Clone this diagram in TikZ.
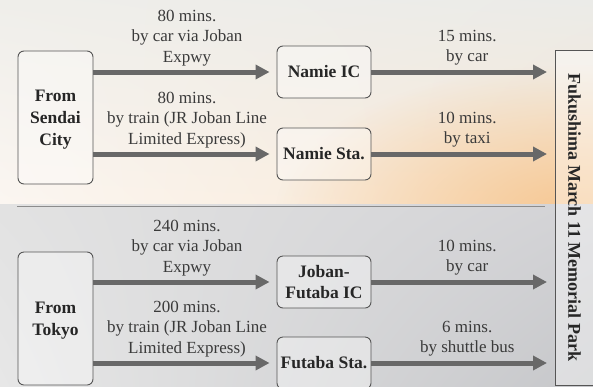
\documentclass[tikz,border=0pt]{standalone}
\usepackage{fontspec}
\setmainfont{Liberation Serif}
\usetikzlibrary{arrows.meta,shadings,fadings}
\definecolor{boxline}{HTML}{555555}
\definecolor{arrowc}{HTML}{686868}
\definecolor{txt}{HTML}{3a3a3a}
\definecolor{btxt}{HTML}{262626}
\definecolor{skyUL}{HTML}{EFEEEA}
\definecolor{skyUR}{HTML}{EBEBE8}
\definecolor{skyLL}{HTML}{FBF6F1}
\definecolor{skyLR}{HTML}{F9E7D2}
\definecolor{peach}{HTML}{F6C792}
\definecolor{seaUL}{HTML}{E2E2E2}
\definecolor{seaUR}{HTML}{D3D3D6}
\definecolor{seaLL}{HTML}{E7E7E7}
\definecolor{seaLR}{HTML}{C6C7CA}
\tikzfading[name=blob, inner color=transparent!0, outer color=transparent!100]
\tikzset{
  place/.style={draw=boxline, line width=0.9pt, rounded corners=6pt, fill=white, fill opacity=0.35, text opacity=1,
    text=btxt, align=center, inner sep=2pt},
  station/.style={place, font=\fontsize{17.5}{20.5}\selectfont\bfseries, minimum width=94pt, minimum height=52pt},
  origin/.style={place, font=\fontsize{17.5}{22}\selectfont\bfseries, minimum width=75pt, minimum height=133pt, text depth=0pt},
  goal/.style={draw=boxline, line width=0.9pt, fill=white, fill opacity=0.4, text opacity=1, text=btxt,
    font=\fontsize{18}{21}\selectfont\bfseries, rotate=-90, minimum width=335pt, minimum height=39pt, inner sep=0pt},
  route/.style={draw=arrowc, line width=5pt, -{Triangle[length=14pt,width=14pt]}},
  info/.style={text=txt, font=\fontsize{17}{20.5}\selectfont, align=center, inner sep=0pt},
  divider/.style={draw=black!45, line width=0.8pt}
}
\begin{document}
\begin{tikzpicture}[x=1pt,y=-1pt]
\useasboundingbox (0,0) rectangle (593,386);
\begin{scope}
\clip (0,0) rectangle (593,386);
\begin{scope}[y=1pt]
\shade[upper left=skyUL, upper right=skyUR, lower left=skyLL, lower right=skyLR] (0,-204) rectangle (593,0);
\begin{scope}
\clip (0,-204) rectangle (593,0);
\fill[peach, path fading=blob] (575,-215) ellipse [x radius=300, y radius=150];
\end{scope}
\shade[upper left=seaUL, upper right=seaUR, lower left=seaLL, lower right=seaLR] (0,-386) rectangle (593,-204);
\end{scope}

\coordinate (d1) at (17,206.5);
\coordinate (d2) at (545,206.5);
\draw[divider] (d1) -- (d2);

\node[origin] (sendai) at (55.5,117.5) {From\\Sendai\\City};
\node[station] (nic) at (324,72) {Namie IC};
\node[station] (nsta) at (324,154) {Namie Sta.};
\node[origin] (tokyo) at (55.5,318.5) {From\\Tokyo};
\node[station] (jic) at (324,282) {Joban-\\Futaba IC};
\node[station] (fsta) at (324,363) {Futaba Sta.};
\node[goal] (park) at (574.5,217.5) {Fukushima March 11 Memorial Park};
\coordinate (pw) at (555,217.5);

\draw[route, shorten >=7pt] (sendai.east |- nic.west) -- (nic.west)
  node[info, midway, above=3.5pt, xshift=2pt] {80 mins.\\by car via Joban\\Expwy};
\draw[route, shorten >=7pt] (sendai.east |- nsta.west) -- (nsta.west)
  node[info, midway, above=3.5pt, xshift=2pt] {80 mins.\\by train (JR Joban Line\\Limited Express)};
\draw[route, shorten >=8pt] (nic.east) -- (pw |- nic.east)
  node[info, midway, above=4pt, xshift=4pt] {15 mins.\\by car};
\draw[route, shorten >=8pt] (nsta.east) -- (pw |- nsta.east)
  node[info, midway, above=4pt, xshift=4pt] {10 mins.\\by taxi};

\draw[route, shorten >=7pt] (tokyo.east |- jic.west) -- (jic.west)
  node[info, midway, above=3.5pt, xshift=2pt] {240 mins.\\by car via Joban\\Expwy};
\draw[route, shorten >=7pt] (tokyo.east |- fsta.west) -- (fsta.west)
  node[info, midway, above=3.5pt, xshift=2pt] {200 mins.\\by train (JR Joban Line\\Limited Express)};
\draw[route, shorten >=8pt] (jic.east) -- (pw |- jic.east)
  node[info, midway, above=4pt, xshift=4pt] {10 mins.\\by car};
\draw[route, shorten >=8pt] (fsta.east) -- (pw |- fsta.east)
  node[info, midway, above=4pt, xshift=4pt] {6 mins.\\by shuttle bus};
\end{scope}
\end{tikzpicture}
\end{document}
